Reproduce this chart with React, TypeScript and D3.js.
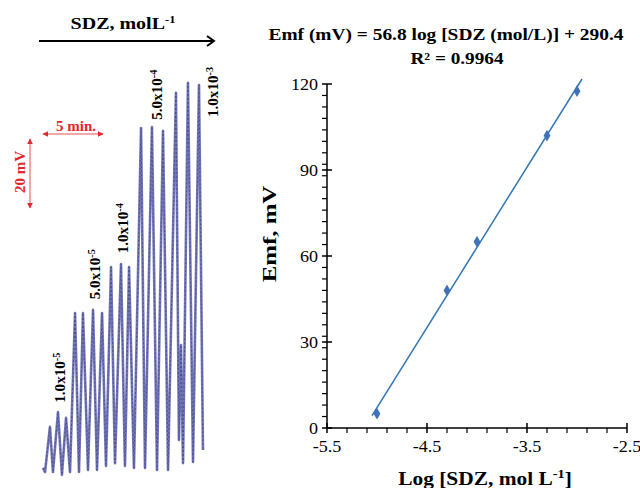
import React from "react";
import * as d3 from "d3";

// ---------- Calibration plot data ----------
const logConc = [-5.0, -4.3, -4.0, -3.3, -3.0];
const emfValues = [5, 48, 65, 102, 117.5];
const fitRange = [-5.05, -2.95];
const xTicks = [-5.5, -4.5, -3.5, -2.5];
const yTicks = [0, 30, 60, 90, 120];

// ---------- Recorder trace data (time in min, emf in mV) ----------
const traceTime = [0, 0.17, 0.58, 0.83, 1.25, 1.58, 1.92, 2.25, 2.67, 3.0, 3.33, 3.75, 4.17, 4.5, 4.92, 5.25, 5.67, 6.0, 6.5, 6.83, 7.17, 7.58, 8.17, 8.5, 9.08, 9.5, 10.0, 10.42, 11.08, 11.33, 11.5, 11.67, 12.08, 12.5, 13.0, 13.33];
const traceEmf = [0.6, -0.6, 12.5, -0.6, 16.8, -1.4, 15.1, -0.6, 45.5, -0.6, 45.5, 0, 46.4, 0, 45.5, 1.2, 58.8, 2.0, 59.7, 1.2, 58.8, 0.6, 99.1, 0.6, 99.4, 0, 98.3, 0, 109.3, 8.7, 36.2, 2.0, 112.2, 2.3, 111.6, 5.8];

const concLabels = [
  { mant: "1.0x10", exp: "-5", t: 1.4, e: 19.5 },
  { mant: "5.0x10", exp: "-5", t: 4.33, e: 49.5 },
  { mant: "1.0x10", exp: "-4", t: 6.67, e: 62.8 },
  { mant: "5.0x10", exp: "-4", t: 9.5, e: 101.5 },
  { mant: "1.0x10", exp: "-3", t: 14.17, e: 102.3 },
];

const SERIF = "'Liberation Serif', 'Times New Roman', serif";

function ST(props: { x: number; y: number; rot?: number; sx?: number; children: React.ReactNode; [k: string]: any }) {
  const { x, y, rot = 0, sx = 1, children, ...rest } = props;
  return (
    <text transform={`translate(${x},${y}) rotate(${rot}) scale(${sx},1)`} {...rest}>
      {children}
    </text>
  );
}

export default function App() {
  // calibration scales
  const x = d3.scaleLinear().domain([-5.5, -2.5]).range([327, 627]);
  const y = d3.scaleLinear().domain([0, 120]).range([428, 84]);

  // linear regression
  const mx = d3.mean(logConc)!;
  const my = d3.mean(emfValues)!;
  let sxy = 0, sxx = 0;
  logConc.forEach((v, i) => {
    sxy += (v - mx) * (emfValues[i] - my);
    sxx += (v - mx) * (v - mx);
  });
  const slope = sxy / sxx;
  const intercept = my - slope * mx;
  const fitLine = d3.line<number>().x((d) => x(d)).y((d) => y(slope * d + intercept));

  const minorX = d3.range(0, 16).map((i) => -5.5 + i * 0.2).filter((_, i) => i % 5 !== 0);
  const minorY = d3.range(0, 31).map((i) => i * 4).filter((v) => v % 30 !== 0);

  // trace scales
  const tS = d3.scaleLinear().domain([0, 5]).range([43, 103]);
  const eS = d3.scaleLinear().domain([0, 20]).range([470, 401]);
  const traceLine = d3
    .line<number>()
    .x((_, i) => tS(traceTime[i]))
    .y((_, i) => eS(traceEmf[i]));
  const tracePath = traceLine(traceTime) || "";

  const red = "#e3262b";
  const minW = tS(5) - tS(0);
  const mvH = eS(0) - eS(20);

  return (
    <svg width={640} height={488} style={{ position: "absolute", left: 0, top: 0, background: "#fff" }} fontFamily={SERIF}>
      <defs>
        <marker id="rh" viewBox="0 0 10 10" refX="9" refY="5" markerWidth="6" markerHeight="6" orient="auto-start-reverse" markerUnits="userSpaceOnUse">
          <path d="M0,0 L10,5 L0,10 z" fill={red} />
        </marker>
      </defs>

      {/* ---------- Left panel ---------- */}
      <ST x={123} y={29} sx={1.25} textAnchor="middle" fontWeight="bold" fontSize={16}>
        SDZ, molL<tspan dy={-6} fontSize={10}>-1</tspan>
      </ST>
      <line x1={39} y1={41} x2={214} y2={41} stroke="#000" strokeWidth={2} />
      <polyline points="207,36 214,41 207,46" fill="none" stroke="#000" strokeWidth={2} />

      {/* scale bars */}
      <line x1={tS(0)} y1={134} x2={tS(0) + minW} y2={134} stroke="#f08a8a" strokeWidth={1.5} markerStart="url(#rh)" markerEnd="url(#rh)" />
      <text x={56} y={131} fontWeight="bold" fontSize={15} fill={red}>5 min.</text>
      <line x1={30} y1={139} x2={30} y2={139 + mvH} stroke="#f08a8a" strokeWidth={1.5} markerStart="url(#rh)" markerEnd="url(#rh)" />
      <text transform="translate(25,172) rotate(-90)" textAnchor="middle" fontWeight="bold" fontSize={15} fill={red}>20 mV</text>

      {/* trace */}
      <path d={tracePath} fill="none" stroke="#5a5ea8" strokeWidth={2.6} strokeLinejoin="round" opacity={0.85} />
      <path d={tracePath} fill="none" stroke="#3a3d85" strokeWidth={1} strokeDasharray="2 2" strokeLinejoin="round" opacity={0.7} />

      {concLabels.map((c, i) => (
        <ST key={i} x={tS(c.t) + 5} y={eS(c.e)} rot={-90} sx={1.08} fontWeight="bold" fontSize={14}>
          {c.mant}
          <tspan dy={-5} fontSize={9.5}>{c.exp}</tspan>
        </ST>
      ))}

      {/* ---------- Right panel ---------- */}
      <text x={446} y={40} textAnchor="middle" fontWeight="bold" fontSize={16.5} textLength={355} lengthAdjust="spacingAndGlyphs">
        Emf (mV) = 56.8 log [SDZ (mol/L)] + 290.4
      </text>
      <text x={457} y={64} textAnchor="middle" fontWeight="bold" fontSize={16.5} textLength={93} lengthAdjust="spacingAndGlyphs">
        R² = 0.9964
      </text>

      {/* axes */}
      <line x1={x(-5.5)} y1={y(0)} x2={x(-2.5)} y2={y(0)} stroke="#000" strokeWidth={1.5} />
      <line x1={x(-5.5)} y1={y(0)} x2={x(-5.5)} y2={y(120)} stroke="#000" strokeWidth={1.5} />
      {xTicks.map((t) => (
        <g key={t}>
          <line x1={x(t)} x2={x(t)} y1={y(0) - 5} y2={y(0) + 5} stroke="#000" strokeWidth={1.5} />
          <ST x={x(t)} y={452} sx={1.13} textAnchor="middle" fontSize={16}>{t.toFixed(1)}</ST>
        </g>
      ))}
      {minorX.map((t) => (
        <line key={t} x1={x(t)} x2={x(t)} y1={y(0)} y2={y(0) + 5} stroke="#000" strokeWidth={1.2} />
      ))}
      {yTicks.map((t) => (
        <g key={t}>
          <line x1={x(-5.5) - 5} x2={x(-5.5) + 5} y1={y(t)} y2={y(t)} stroke="#000" strokeWidth={1.5} />
          <ST x={318} y={y(t) + 5.5} sx={1.13} textAnchor="end" fontSize={16}>{t}</ST>
        </g>
      ))}
      {minorY.map((t) => (
        <line key={t} x1={x(-5.5) - 5} x2={x(-5.5)} y1={y(t)} y2={y(t)} stroke="#000" strokeWidth={1.2} />
      ))}

      <path d={fitLine(fitRange) || ""} fill="none" stroke="#2f74b5" strokeWidth={1.5} />
      {logConc.map((v, i) => (
        <path key={i} d={d3.symbol(d3.symbolDiamond, 40)() || ""} transform={`translate(${x(v)},${y(emfValues[i])})`} fill="#3f72b8" />
      ))}

      <ST x={276} y={234} rot={-90} sx={1.38} textAnchor="middle" fontWeight="bold" fontSize={18}>Emf, mV</ST>
      <ST x={485} y={485} sx={1.19} textAnchor="middle" fontWeight="bold" fontSize={18}>
        Log [SDZ, mol L<tspan dy={-7} fontSize={12}>-1</tspan><tspan dy={7}>]</tspan>
      </ST>
    </svg>
  );
}
